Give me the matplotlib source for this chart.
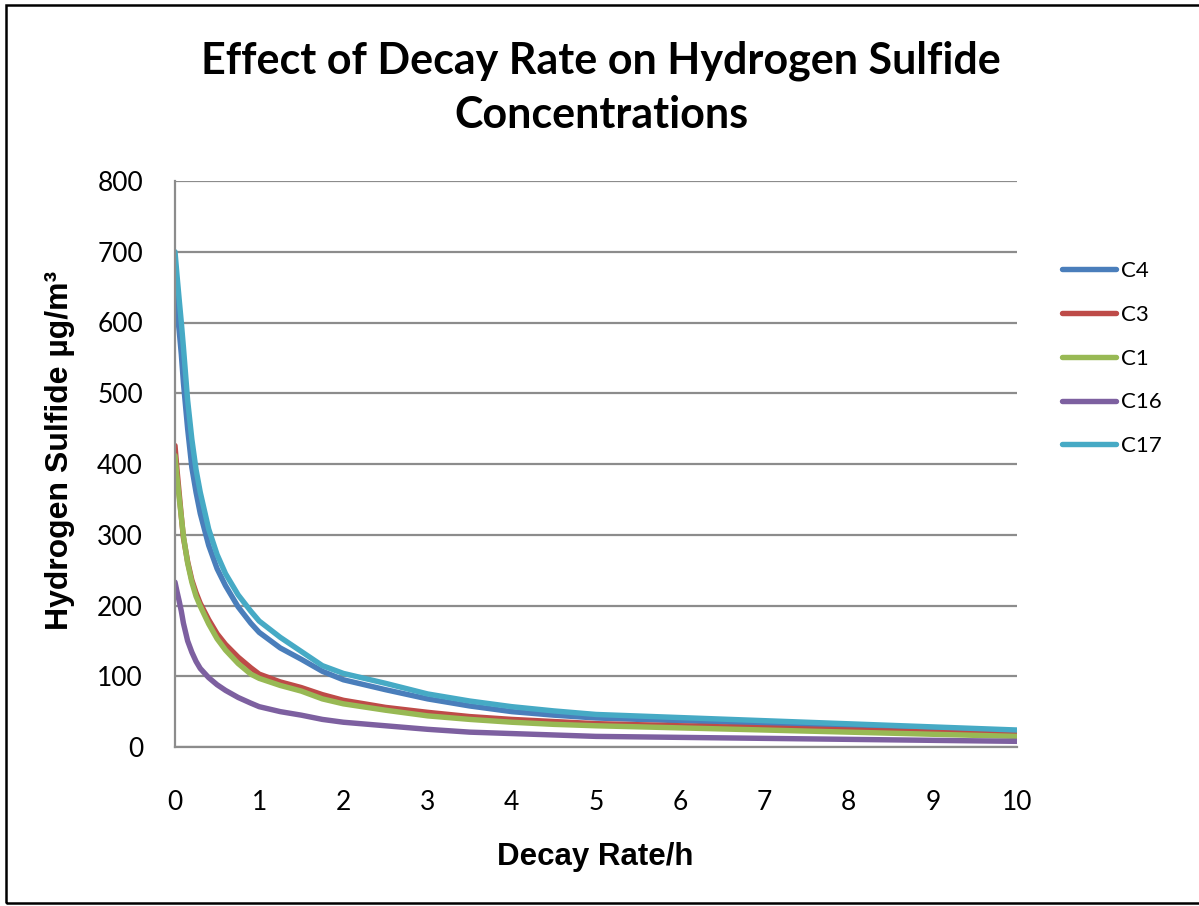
import matplotlib
matplotlib.use("Agg")
import matplotlib.pyplot as plt
from matplotlib.patches import Rectangle

# Data
decay_rate = [0, 0.025, 0.05, 0.075, 0.1, 0.15, 0.2, 0.25, 0.3, 0.4, 0.5, 0.6, 0.75, 0.9,
              1, 1.25, 1.5, 1.75, 2, 2.5, 3, 3.5, 4, 4.5, 5, 10]
c4 = [640, 615, 588, 555, 515, 450, 395, 360, 330, 285, 252, 228, 198, 175,
      162, 140, 124, 107, 95, 81, 68, 58, 50, 45, 41, 22]
c3 = [426, 390, 358, 326, 296, 262, 236, 218, 203, 180, 160, 145, 127, 112,
      103, 92, 84, 74, 66, 56, 49, 43, 39, 36, 33, 18]
c1 = [412, 380, 352, 325, 298, 260, 233, 213, 199, 174, 153, 137, 118, 103,
      97, 87, 79, 68, 61, 52, 44, 39, 35, 32, 30, 15]
c16 = [233, 219, 206, 192, 175, 150, 134, 121, 111, 98, 88, 80, 70, 62,
       57, 50, 45, 39, 35, 30, 25, 21, 19, 17, 15, 8]
c17 = [700, 665, 632, 600, 565, 490, 435, 392, 360, 308, 272, 245, 215, 192,
       178, 155, 135, 115, 104, 90, 75, 65, 57, 51, 46, 24]

series_names = ["C4", "C3", "C1", "C16", "C17"]
series_values = [c4, c3, c1, c16, c17]
series_colors = ["#4A7EBB", "#BE4B48", "#98B954", "#7D60A0", "#46AAC5"]

x_ticks = list(range(0, 11))
y_ticks = list(range(0, 801, 100))

title_text = "Effect of Decay Rate on Hydrogen Sulfide\nConcentrations"
x_label = "Decay Rate/h"
y_label = "Hydrogen Sulfide µg/m³"

W, H = 1199, 906
fig = plt.figure(figsize=(W / 100, H / 100), dpi=100)
fig.patch.set_facecolor("white")

# outer border
fig.add_artist(Rectangle((6 / W, 3 / H), (W + 10 - 6) / W, (H - 5 - 3) / H,
                         transform=fig.transFigure, fill=False,
                         edgecolor="black", linewidth=1.8, clip_on=False))

ax = fig.add_axes([175 / W, 1 - 747 / H, (1017 - 175) / W, (747 - 181) / H])

for name, vals, col in zip(series_names, series_values, series_colors):
    ax.plot(decay_rate, vals, color=col, linewidth=3.9, label=name,
            solid_capstyle="round", solid_joinstyle="round")

ax.set_xlim(0, 10)
ax.set_ylim(0, 800)
ax.set_xticks(x_ticks)
ax.set_yticks(y_ticks)
ax.set_xticklabels([str(t) for t in x_ticks], fontfamily="Lato", fontsize=19)
ax.set_yticklabels([str(t) for t in y_ticks], fontfamily="Lato", fontsize=19)
ax.tick_params(axis="both", length=0, colors="black")
ax.tick_params(axis="x", pad=31)
ax.tick_params(axis="y", pad=23)

ax.grid(axis="y", color="#8C8C8C", linewidth=1.6)
ax.set_axisbelow(True)
for side in ["top", "right"]:
    ax.spines[side].set_visible(False)
for side in ["left", "bottom"]:
    ax.spines[side].set_color("#8C8C8C")
    ax.spines[side].set_linewidth(1.6)

fig.text(601 / W, 1 - 88 / H, title_text, ha="center", va="center",
         fontfamily="Lato", fontweight="bold", fontsize=31, linespacing=1.42)
fig.text(595 / W, 1 - 857 / H, x_label, ha="center", va="center",
         fontfamily="Liberation Sans", fontweight="bold", fontsize=22.5)
fig.text(60 / W, 1 - 450 / H, y_label, ha="center", va="center", rotation=90,
         fontfamily="Liberation Sans", fontweight="bold", fontsize=23)

leg = ax.legend(loc="upper left", bbox_to_anchor=(1062 / W, 1 - 261 / H),
                bbox_transform=fig.transFigure, frameon=False,
                prop={"family": "Lato", "size": 16},
                handlelength=2.45, handletextpad=0.2, labelspacing=1.07,
                borderpad=0, borderaxespad=0)
for line in leg.get_lines():
    line.set_linewidth(3.9)

fig.savefig("out.png", dpi=100)
